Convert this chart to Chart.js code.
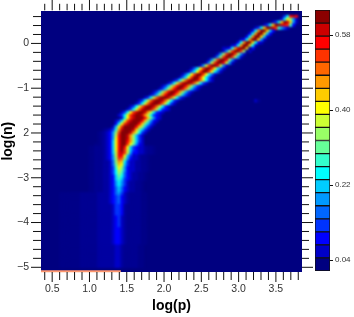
<!DOCTYPE html>
<html lang="en">
<head>
<meta charset="UTF-8" />
<title>log(n) vs log(p)</title>
<script src="https://cdn.jsdelivr.net/npm/chart.js"></script>
<style>
  body { margin: 0; background: #fff; }
  #plot { position: absolute; left: 41px; top: 11px; width: 261px; height: 261px; overflow: hidden; background: #000080; }
  #heat { filter: blur(0.9px); }
  #axes, #bar { position: absolute; top: 0; filter: blur(0.35px); }
  #axes { left: 0; }
  #bar { left: 300px; }
</style>
</head>
<body>
<div id="plot"><canvas id="heat" width="261" height="261"></canvas></div>
<canvas id="axes" width="354" height="317"></canvas>
<canvas id="bar" width="54" height="317"></canvas>
<script>
// axes
const xRange = [0.35, 3.85];
const yRange = [-5.105, 0.74];
const xTickValues = [0.5, 1.0, 1.5, 2.0, 2.5, 3.0, 3.5];
const xTickLabels = ['0.5', '1.0', '1.5', '2.0', '2.5', '3.0', '3.5'];
const yTickValues = [0, -1, -2, -3, -4, -5];
const yTickLabels = ['0', '\u22121', '2', '\u22123', '\u22124', '\u22125'];

// colour bar, bottom to top
const barColors = ['#000080', '#0000c8', '#0000ff', '#0033ff', '#0066ff', '#0099ff', '#00ccff', '#00ffff',
  '#33ffcc', '#66ff99', '#99ff66', '#ccff33', '#ffff00', '#ffcc00', '#ff9900', '#ff6600', '#ff3300', '#ff0000', '#cc0000', '#8b0000'];
const barTickValues = [0.04, 0.22, 0.40, 0.58];
const barTickLabels = ['0.04', '0.22', '0.40', '0.58'];
const barRange = [0.0136, 0.64];

// heat map: one entry per row from the top, first column
// and the levels from there on (0-j = barColors index, w x y = faint haze)
const gridCols = 87;
const gridRows = 87;
const hazeColors = { w: '#000088', x: '#000092', y: '#0000a2' };
const heatStart = [
  82, 81, 78, 75, 72, 71, 70, 69, 67, 66, 64, 61, 61, 59, 58, 56, 55, 53, 50, 49,
  47, 46, 44, 42, 40, 39, 37, 36, 34, 32, 31, 29, 28, 26, 25, 26, 24, 24, 23, 20,
  18, 18, 18, 18, 17, 15, 15, 15, 15, 15, 15, 15, 15, 15, 15, 15, 15, 15, 15, 15,
  15, 5, 5, 5, 5, 5, 5, 5, 5, 5, 5, 5, 5, 5, 5, 5, 5, 5, 5, 5,
  5, 5, 5, 5, 5, 5, 5
];
const heatLevels = [
  '37hih', '27ca51', '137djid51', '137djjihg82', '137djjig8531', '27ejjd62', '27ejjd62', '27ejjd61',
  '127ejjd51', '27ejjd721', '127ejjd71', '1127eijjd62', '15agjjga51', '15agjjga51', '15agjjga51', '15agjjha51',
  '15bgjjhb51', '15bgjjhb51', '147cgjjgc741', '147cgjjgc741', '147cgjjgc741', '147cgjjgc741', '137bfijjifb731', '137bfijjifb731',
  '136aehjjhea631', '136aehjjhea631', '136aehjjhea631', '136aehjjhea631', '137bfijjifb731', '137bfijjifb731', '137bfijjifb731', '137bfijjifb731',
  '137bfijjifb7321', '137cgijjieb7321', '137cgijjieb7321', '17cgijjjhd9521', '137cgijjjhd9521', '27cgijjjhd9631', '16cgjjjjhda631', 'xy138eijjjid9631',
  'wxy125agjjjieb731', 'wxy125bhjjiea631', 'wxy125chjjiea631', 'wxy126chjjhea631', 'wwxy126chjjgc9521', 'wwxxxy126chjhc63211yxxw', 'wwxxxy126chjgb63211yxxw', 'wwxxxy126bhigb52211yxxw',
  'wwxxxy125bhhc6311yxxw', 'wwxxxy125agfa5211yxxw', 'wwxxxyy14aed7311yyxxw', 'wwxxxyy149dc6311yyxxw', 'wwxxxyy138ca5211yyxxw', 'wwxxxyy137b95211yyxxw', 'wwxxxyy137a8421yyxxw', 'wwxxxyy12697421yyxxw',
  'wwxxxyy12686321yyxxw', 'wwxxxyy1257531yyxxw', 'wwxxxyy1257531yyxxw', 'wwxxxyy1246421yyxxw', 'wwxxxyy1246421yyxxw',
  'wwwwwwwxxxxxxyyyy124531yxxxxww', 'wwwwwwwxxxxxxyyyy123421yxxxxww', 'wwwwwwwxxxxxxyyyy123421yxxxxww', 'wwwwwwwxxxxxxyyyy123421yxxxxww',
  'wwwwwwwxxxxxxyyyyy1332yxxxxxww', 'wwwwwwwxxxxxxyyyyy1332yxxxxxww', 'wwwwwwwxxxxxxyyyyy1332yxxxxxww', 'wwwwwwwxxxxxxyyyyy1332yxxxxxww',
  'wwwwwwwxxxxxxyyyyy1231yxxxxxww', 'wwwwwwwxxxxxxyyyyy1231yxxxxxww', 'wwwwwwwxxxxxxyyyyy1231yxxxxxww', 'wwwwwwwxxxxxxyyyyy1231yxxxxxww',
  'wwwwwwwxxxxxxyyyyy1221yxxxxxww', 'wwwwwwwxxxxxxyyyyy1221yxxxxxww', 'wwwwwwwxxxxxxyyyyy1221yxxxxxww', 'wwwwwwwxxxxxxyyyyy1221yxxxxxww',
  'wwwwwwwxxxxxxyyyyy1221yxxxxxww', 'wwwwwwwxxxxxxyyyyy1221yxxxxxww',
  'wwwwwwwxxxxxxyyyyyy11yxxxxxww', 'wwwwwwwxxxxxxyyyyyy11yxxxxxww', 'wwwwwwwxxxxxxyyyyyy11yxxxxxww', 'wwwwwwwxxxxxxyyyyyy11yxxxxxww',
  'wwwwwwwxxxxxxyyyyyy11yxxxxxww', 'wwwwwwwxxxxxxyyyyyy11yxxxxxww', 'wwwwwwwxxxxxxyyyyyy11yxxxxxww', 'wwwwwwwxxxxxxyyyyyy11yxxxxxww'
];
// small isolated specks
const speckRows = [11, 12, 29, 29];
const speckCols = [70, 69, 72, 73];
const speckLevels = ['x', 'x', '1', 'x'];
// thin bright row along the bottom edge
const edgeX = [0.35, 1.42];
const edgeY = [-5.09, -5.09];

function levelColor(ch) {
  return hazeColors[ch] || barColors[parseInt(ch, 20)];
}

const heatPoints = [];
const heatColors = [];
function addCell(row, col, ch) {
  if (ch === '0' || col >= gridCols) return;
  heatPoints.push({
    x: xRange[0] + (col + 0.5) * (xRange[1] - xRange[0]) / gridCols,
    y: yRange[1] - (row + 0.5) * (yRange[1] - yRange[0]) / gridRows
  });
  heatColors.push(levelColor(ch));
}
heatLevels.forEach((s, r) => { [...s].forEach((ch, i) => addCell(r, heatStart[r] + i, ch)); });
speckRows.forEach((r, i) => addCell(r, speckCols[i], speckLevels[i]));

// tick marks on all four sides, outward, longer at the labelled values
const tickMarks = {
  id: 'tickMarks',
  afterDraw(chart) {
    const a = chart.chartArea, c = chart.ctx;
    const sx = chart.scales.x, sy = chart.scales.y;
    c.save();
    c.strokeStyle = '#111';
    c.lineWidth = 1;
    c.beginPath();
    for (let i = 4; i <= 38; i++) {
      const px = sx.getPixelForValue(i / 10), major = i % 5 === 0;
      c.moveTo(px, a.top); c.lineTo(px, a.top - (major ? 11 : 6.5));
      c.moveTo(px, a.bottom); c.lineTo(px, a.bottom + (major ? 10 : 8));
    }
    for (let i = -25; i <= 3; i++) {
      const py = sy.getPixelForValue(i / 5), major = i % 5 === 0;
      c.moveTo(a.left, py); c.lineTo(a.left - (major ? 10 : 8), py);
      c.moveTo(a.right, py); c.lineTo(a.right + (major ? 11 : 7), py);
    }
    c.stroke();
    c.restore();
  }
};

// the cells, in their own canvas so only they get smoothed
new Chart(document.getElementById('heat'), {
  type: 'scatter',
  data: {
    datasets: [{
      data: heatPoints,
      pointStyle: 'rect',
      pointRadius: 2.3,
      pointBorderWidth: 0,
      pointBackgroundColor: heatColors
    }]
  },
  options: {
    responsive: false,
    animation: false,
    layout: { padding: 0 },
    plugins: { legend: { display: false }, tooltip: { enabled: false } },
    scales: {
      x: { type: 'linear', display: false, min: xRange[0], max: xRange[1] },
      y: { type: 'linear', display: false, min: yRange[0], max: yRange[1] }
    }
  }
});

new Chart(document.getElementById('axes'), {
  type: 'scatter',
  data: {
    datasets: [{
      data: edgeX.map((x, i) => ({ x: x, y: edgeY[i] })),
      showLine: true,
      borderColor: '#ff9a70',
      borderWidth: 2,
      pointRadius: 0,
      clip: 3
    }]
  },
  plugins: [tickMarks],
  options: {
    responsive: false,
    animation: false,
    layout: { padding: { top: 5, right: 52 } },
    plugins: { legend: { display: false }, tooltip: { enabled: false } },
    scales: {
      x: {
        type: 'linear',
        min: xRange[0],
        max: xRange[1],
        afterFit: s => { s.height = 45; },
        afterBuildTicks: s => { s.ticks = xTickValues.map(v => ({ value: v })); },
        grid: { display: false },
        border: { display: false },
        ticks: {
          padding: 3,
          maxRotation: 0,
          autoSkip: false,
          color: '#333',
          font: { family: 'Liberation Sans', size: 10.5 },
          callback: v => xTickLabels[xTickValues.indexOf(v)]
        },
        title: {
          display: true,
          text: 'log(p)',
          color: '#000',
          padding: { top: 0, bottom: 2 },
          font: { family: 'Liberation Sans', size: 14, weight: 'bold' }
        }
      },
      y: {
        type: 'linear',
        min: yRange[0],
        max: yRange[1],
        afterFit: s => { s.width = 41; },
        afterBuildTicks: s => { s.ticks = yTickValues.map(v => ({ value: v })); },
        grid: { display: false },
        border: { display: false },
        ticks: {
          padding: 4,
          autoSkip: false,
          color: '#333',
          font: { family: 'Liberation Sans', size: 10.5 },
          callback: v => yTickLabels[yTickValues.indexOf(v)]
        },
        title: {
          display: true,
          text: 'log(n)',
          color: '#000',
          padding: { top: 0, bottom: 0 },
          font: { family: 'Liberation Sans', size: 14, weight: 'bold' }
        }
      }
    }
  }
});

// colour bar
const barStep = (barRange[1] - barRange[0]) / barColors.length;
new Chart(document.getElementById('bar'), {
  type: 'bar',
  data: {
    labels: [''],
    datasets: barColors.map((col, i) => ({
      data: [[barRange[0] + i * barStep, barRange[0] + (i + 1) * barStep]],
      backgroundColor: col,
      borderColor: '#111',
      borderWidth: 1,
      borderSkipped: false,
      grouped: false,
      categoryPercentage: 1,
      barPercentage: 1
    }))
  },
  options: {
    responsive: false,
    animation: false,
    layout: { padding: { left: 15, top: 10 } },
    plugins: { legend: { display: false }, tooltip: { enabled: false } },
    scales: {
      x: {
        display: true,
        afterFit: s => { s.height = 46; },
        grid: { display: false },
        border: { display: false },
        ticks: { display: false }
      },
      y: {
        position: 'right',
        min: barRange[0],
        max: barRange[1],
        afterFit: s => { s.width = 24; },
        afterBuildTicks: s => { s.ticks = barTickValues.map(v => ({ value: v })); },
        grid: { drawOnChartArea: false, tickLength: 3, tickColor: '#111' },
        border: { display: false },
        ticks: {
          padding: 2,
          color: '#333',
          font: { family: 'Liberation Sans', size: 8 },
          callback: v => barTickLabels[barTickValues.indexOf(v)]
        }
      }
    }
  }
});
</script>
</body>
</html>
